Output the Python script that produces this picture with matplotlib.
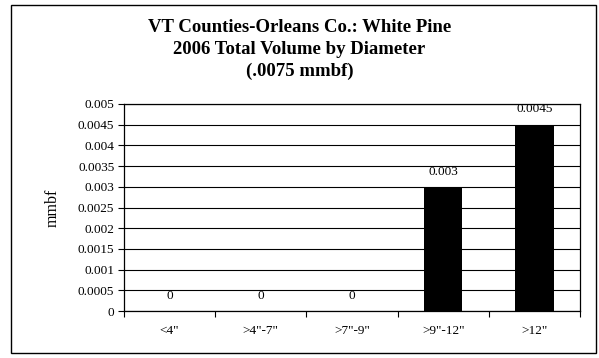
import matplotlib
matplotlib.use("Agg")
import matplotlib.pyplot as plt
import numpy as np
from matplotlib.patches import Rectangle

# data
categories = ['<4"', '>4"-7"', '>7"-9"', '>9"-12"', '>12"']
volume = [0, 0, 0, 0.003, 0.0045]
value_labels = ['0', '0', '0', '0.003', '0.0045']
yticks = np.arange(0, 0.0051, 0.0005)
ytick_labels = ['0', '0.0005', '0.001', '0.0015', '0.002', '0.0025',
                '0.003', '0.0035', '0.004', '0.0045', '0.005']

plt.rcParams['font.family'] = ['Liberation Serif', 'DejaVu Serif']

W, H = 599, 358
fig = plt.figure(figsize=(W / 100, H / 100), dpi=100)
fig.patch.set_facecolor('white')

# outer chart border
fig.patches.append(Rectangle((11 / W, 1 - 353 / H), (596 - 11) / W, (353 - 5) / H,
                             transform=fig.transFigure, fill=False,
                             edgecolor='black', linewidth=1.0))

ax = fig.add_axes([124 / W, 1 - 311 / H, (580 - 124) / W, (311 - 104) / H])

x = np.arange(len(categories))
ax.bar(x, volume, width=0.42, color='black', zorder=3)

ax.set_xlim(-0.5, len(categories) - 0.5)
ax.set_ylim(0, 0.005)
ax.set_yticks(yticks)
ax.set_yticklabels(ytick_labels, fontsize=9.5)
ax.yaxis.grid(True, color='black', linewidth=0.8, zorder=0)
ax.set_axisbelow(True)

ax.set_xticks(x)
ax.set_xticklabels(categories, fontsize=9.5)
ax.tick_params(axis='x', which='major', length=0, pad=10)
ax.set_xticks(np.arange(-0.5, len(categories), 1.0), minor=True)
ax.tick_params(axis='x', which='minor', length=4, direction='out', width=0.8)
ax.tick_params(axis='y', length=4, direction='out', width=0.8, pad=3)

for s in ax.spines.values():
    s.set_color('black')
    s.set_linewidth(0.9)

for xi, v, lab in zip(x, volume, value_labels):
    ax.annotate(lab, (xi, v), xytext=(0, 11), textcoords='offset points',
                ha='center', va='center', fontsize=9.5)

ax.set_ylabel('mmbf', fontsize=11.5, labelpad=12)

fig.text(0.5, 1 - 27 / H, 'VT Counties-Orleans Co.: White Pine', ha='center', va='center',
         fontsize=13.5, fontweight='bold')
fig.text(0.5, 1 - 49 / H, '2006 Total Volume by Diameter', ha='center', va='center',
         fontsize=13.5, fontweight='bold')
fig.text(0.5, 1 - 71 / H, '(.0075 mmbf)', ha='center', va='center',
         fontsize=13.5, fontweight='bold')

fig.savefig('out.png', dpi=100)
